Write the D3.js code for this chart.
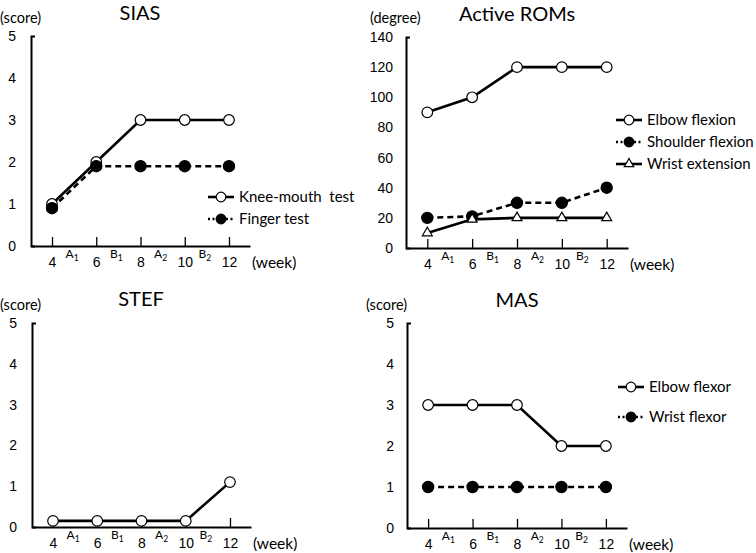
<!DOCTYPE html>
<html>
<head>
<meta charset="utf-8">
<script src="https://cdn.jsdelivr.net/npm/d3@7"></script>
<style>
  body { margin: 0; background: #fff; }
  svg { font-family: Lato, "Open Sans", sans-serif; }
</style>
</head>
<body>
<div id="chart"></div>
<script>
// data
const weeks = [4, 6, 8, 10, 12];
const phases = [["A", "1"], ["B", "1"], ["A", "2"], ["B", "2"]];
const scoreTicks = [0, 1, 2, 3, 4, 5];
const degreeTicks = [0, 20, 40, 60, 80, 100, 120, 140];

const siasKnee = [1, 2, 3, 3, 3];
const siasFinger = [0.9, 1.9, 1.9, 1.9, 1.9];
const romElbow = [90, 100, 120, 120, 120];
const romShoulder = [20, 21, 30, 30, 40];
const romWrist = [10, 19, 20, 20, 20];
const stefScore = [0.15, 0.15, 0.15, 0.15, 1.1];
const masElbow = [3, 3, 3, 2, 2];
const masWrist = [1, 1, 1, 1, 1];

const width = 756, height = 553;

const svg = d3.select("#chart").append("svg")
  .attr("width", width)
  .attr("height", height);

const panels = [
  {
    title: "SIAS", titleX: 140, titleY: 20,
    unit: "(score)", unitX: 0, unitY: 23,
    left: 31, right: 250, top: 36, bottom: 246,
    yMax: 5, ticks: scoreTicks, pad: 15,
    legend: {x: 208, y: 197, dy: 22},
    series: [
      {name: "Knee-mouth\u00a0 test", values: siasKnee, marker: "open", dash: null},
      {name: "Finger test", values: siasFinger, marker: "filled", dash: "6,4"}
    ]
  },
  {
    title: "Active ROMs", titleX: 517, titleY: 21,
    unit: "(degree)", unitX: 370, unitY: 23,
    left: 406, right: 628, top: 37, bottom: 248,
    yMax: 140, ticks: degreeTicks, pad: 13,
    legend: {x: 616, y: 120, dy: 22},
    series: [
      {name: "Elbow flexion", values: romElbow, marker: "open", dash: null},
      {name: "Shoulder flexion", values: romShoulder, marker: "filled", dash: "6,4"},
      {name: "Wrist extension", values: romWrist, marker: "triangle", dash: null}
    ]
  },
  {
    title: "STEF", titleX: 141, titleY: 306,
    unit: "(score)", unitX: 0, unitY: 310,
    left: 32, right: 251, top: 323, bottom: 527,
    yMax: 5, ticks: scoreTicks, pad: 15,
    legend: null,
    series: [
      {name: "STEF", values: stefScore, marker: "open", dash: null}
    ]
  },
  {
    title: "MAS", titleX: 517, titleY: 307,
    unit: "(score)", unitX: 366, unitY: 310,
    left: 407, right: 627, top: 323, bottom: 528,
    yMax: 5, ticks: scoreTicks, pad: 13,
    legend: {x: 618, y: 387, dy: 30},
    series: [
      {name: "Elbow flexor", values: masElbow, marker: "open", dash: null},
      {name: "Wrist flexor", values: masWrist, marker: "filled", dash: "6,4"}
    ]
  }
];

const drawMarker = function(sel, kind, size) {
  if (kind === "triangle") {
    sel.append("path")
      .attr("d", d3.symbol(d3.symbolTriangle, size * 8))
      .attr("fill", "#fff")
      .attr("stroke", "#000")
      .attr("stroke-width", 1.2);
  } else {
    sel.append("circle")
      .attr("r", size)
      .attr("fill", kind === "filled" ? "#000" : "#fff")
      .attr("stroke", "#000")
      .attr("stroke-width", 1.2);
  }
}

const drawPanel = function(p) {
  const g = svg.append("g");

  const x = d3.scaleLinear().domain([3.05, 12.95]).range([p.left, p.right]);
  const y = d3.scaleLinear().domain([0, p.yMax]).range([p.bottom, p.top]);

  // title + unit
  g.append("text")
    .attr("x", p.titleX).attr("y", p.titleY)
    .attr("text-anchor", "middle")
    .attr("font-size", 20)
    .text(p.title);
  g.append("text")
    .attr("x", p.unitX).attr("y", p.unitY)
    .attr("font-size", 14.5)
    .text(p.unit);

  // y axis
  g.append("g")
    .attr("transform", `translate(${p.left},0)`)
    .call(d3.axisLeft(y).tickValues(p.ticks).tickFormat(d3.format("d"))
      .tickSize(0).tickSizeOuter(-4).tickPadding(p.pad))
    .call(a => a.select(".domain").attr("stroke-width", 2))
    .call(a => a.selectAll("text").attr("font-size", 14).attr("font-family", null));

  // x axis, ticks pointing up
  g.append("g")
    .attr("transform", `translate(0,${p.bottom})`)
    .call(d3.axisBottom(x).tickValues(weeks).tickSize(-9).tickSizeOuter(0).tickPadding(11))
    .call(a => a.select(".domain").attr("stroke-width", 2))
    .call(a => a.selectAll(".tick line").attr("stroke-width", 1.3))
    .call(a => a.selectAll("text").attr("font-size", 14).attr("font-family", null));

  g.append("text")
    .attr("x", p.right + 2).attr("y", p.bottom + 22)
    .attr("font-size", 15.5)
    .text("(week)");

  // phase labels between the weeks
  const ph = g.append("g").attr("font-size", 12);
  phases.forEach((d, i) => {
    const t = ph.append("text")
      .attr("x", (x(weeks[i]) + x(weeks[i + 1])) / 2 - 2)
      .attr("y", p.bottom + 12)
      .attr("text-anchor", "middle");
    t.append("tspan").text(d[0]);
    t.append("tspan").attr("font-size", 8.5).attr("dy", 3).text(d[1]);
  });

  // series
  const line = d3.line().x((d, i) => x(weeks[i])).y(d => y(d));
  p.series.forEach(s => {
    g.append("path")
      .attr("d", line(s.values))
      .attr("fill", "none")
      .attr("stroke", "#000")
      .attr("stroke-width", 2.6)
      .attr("stroke-dasharray", s.dash);
    g.selectAll(null)
      .data(s.values)
      .join("g")
        .attr("transform", (d, i) => `translate(${x(weeks[i])},${y(d)})`)
        .call(m => drawMarker(m, s.marker, s.marker === "filled" ? 5.6 : 5.3));
  });

  // legend
  if (p.legend) {
    p.series.forEach((s, i) => {
      const ly = p.legend.y + i * p.legend.dy;
      const lg = g.append("g").attr("transform", `translate(${p.legend.x},${ly})`);
      lg.append("line")
        .attr("x1", 0).attr("x2", 26)
        .attr("stroke", "#000")
        .attr("stroke-width", 2.6)
        .attr("stroke-dasharray", s.dash ? "2,2.5" : null);
      lg.append("g")
        .attr("transform", "translate(13,0)")
        .call(m => drawMarker(m, s.marker, 4.8));
      lg.append("text")
        .attr("x", 31).attr("y", 0)
        .attr("dy", "0.35em")
        .attr("font-size", 15)
        .text(s.name);
    });
  }
}

panels.forEach(drawPanel);
</script>
</body>
</html>
